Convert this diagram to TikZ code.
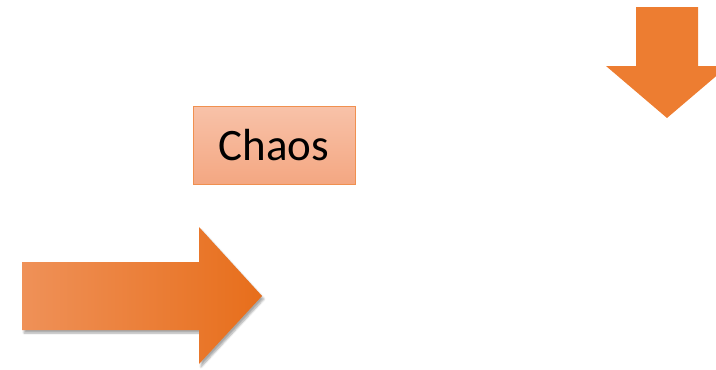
\documentclass[tikz,border=0pt]{standalone}
\usepackage{fontspec}
\setmainfont{Carlito}
\usetikzlibrary{shadows.blur}
\definecolor{accent}{HTML}{ED7D31}
\definecolor{arrowL}{HTML}{EF9158}
\definecolor{arrowR}{HTML}{E76E1B}
\definecolor{boxTop}{HTML}{F8C2A9}
\definecolor{boxBot}{HTML}{F4A782}
\tikzset{
  labelbox/.style={draw=accent!85, line width=0.8pt, top color=boxTop, bottom color=boxBot,
    minimum width=162pt, minimum height=78pt, inner sep=0pt, font=\fontsize{45}{45}\selectfont},
  bigarrow/.style={left color=arrowL, right color=arrowR, draw=none,
    blur shadow={shadow xshift=2pt, shadow yshift=-3pt, shadow blur steps=6, shadow opacity=35}},
  downarrow/.style={fill=accent, draw=none}
}
\begin{document}
\begin{tikzpicture}[x=1pt,y=-1pt]
  \useasboundingbox (0,0) rectangle (716,370);
  % label box
  \node[labelbox] (chaos) at (274,145) {Chaos};
  % right-pointing block arrow
  \path[bigarrow] (22,262) -- (199,262) -- (199,227) -- (262,296) -- (199,364)
        -- (199,330) -- (22,330) -- cycle;
  % downward block arrow, clipped by the page edge
  \begin{scope}
    \clip (0,0) rectangle (716,370);
    \path[downarrow] (636,7) -- (698,7) -- (698,66) -- (728,66) -- (667,118)
          -- (606,66) -- (636,66) -- cycle;
  \end{scope}
\end{tikzpicture}
\end{document}
